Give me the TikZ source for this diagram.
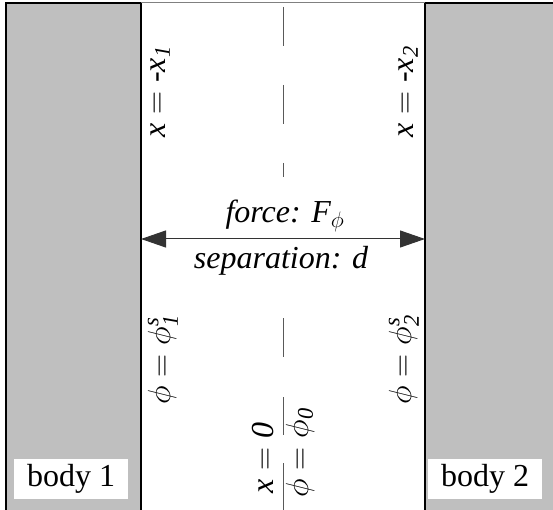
\RequirePackage{fix-cm}
\documentclass[tikz,border=0pt]{standalone}
\usepackage{amsmath}
\usepackage{fontspec}
\setmainfont{Liberation Serif}
\usetikzlibrary{arrows.meta}
\definecolor{bodygray}{RGB}{191,191,191}
\newcommand\vi[1]{\text{\itshape #1}}
\begin{document}
\begin{tikzpicture}[x=1pt,y=-1pt,
  lab/.style={inner sep=0pt, font=\fontsize{32}{38}\selectfont\itshape},
  rlab/.style={lab, rotate=90, anchor=base},
  bodylab/.style={fill=white, inner xsep=13pt, inner ysep=5pt, font=\fontsize{32}{38}\selectfont},
  wall/.style={draw=black, line width=1.6pt},
  centre/.style={draw=gray!70!black, line width=1pt},
  dim/.style={draw=black!80, line width=1pt, {Triangle[length=25pt,width=17pt]}-{Triangle[length=25pt,width=17pt]}}]
\useasboundingbox (0,0) rectangle (553,510);
% bodies
\fill[bodygray] (6,3) rectangle (141,520);
\fill[bodygray] (425,3) rectangle (560,520);
\draw[wall] (6,520) -- (6,3) -- (141,3) -- (141,520);
\draw[wall] (425,520) -- (425,3) -- (560,3);
\draw[draw=gray, line width=1pt] (141,3) -- (425,3);
% centre line
\foreach \a/\b in {7/46, 85/124, 163/177, 318/357, 397/435, 463/515}
  \draw[centre] (283,\a) -- (283,\b);
% dimension arrow
\coordinate (wl) at (141,239);
\coordinate (wr) at (425,239);
\draw[dim] (wl) -- (wr);
\node[lab, anchor=base] (force) at (285,223) {force: $\vi{F}_{\phi}$};
\node[lab, anchor=base] (sep) at (281,268) {separation: \vi{d}};
% rotated labels
\node[rlab] (xl) at (165,92) {$\vi{x} = \text{-}\vi{x}_{\vi{1}}$};
\node[rlab] (xr) at (413,92) {$\vi{x} = \text{-}\vi{x}_{\vi{2}}$};
\node[rlab] (pl) at (170,360) {$\phi = \phi^{\vi{s}}_{\vi{1}}$};
\node[rlab] (pr) at (411,360) {$\phi = \phi^{\vi{s}}_{\vi{2}}$};
\node[rlab] (x0) at (273,458) {$\vi{x} = \vi{0}$};
\node[rlab] (p0) at (308,453) {$\phi = \phi_{\vi{0}}$};
% body labels
\node[bodylab] (b1) at (71,479) {body 1};
\node[bodylab] (b2) at (485,479) {body 2};
\end{tikzpicture}
\end{document}
